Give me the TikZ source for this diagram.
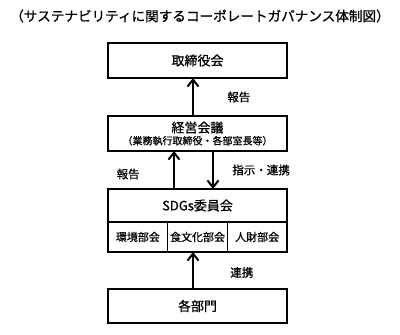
\documentclass[tikz,border=0pt]{standalone}
\usepackage{fontspec}
\setmainfont{Noto Sans CJK JP}[FakeBold=0.8]
\usetikzlibrary{arrows.meta, positioning}

\tikzset{
  box/.style={draw, line width=2pt, minimum width=179pt, minimum height=35pt,
              inner sep=0pt, outer sep=0pt, font=\fontsize{13}{15}\selectfont},
  subbox/.style={draw, line width=1.6pt, minimum width=59.67pt, minimum height=30pt,
                 inner sep=0pt, outer sep=0pt, font=\fontsize{11}{13}\selectfont},
  link/.style={line width=2pt, -{Straight Barb[length=7pt,width=11pt]}},
  lbl/.style={font=\fontsize{11.5}{13}\selectfont},
}

\begin{document}
\begin{tikzpicture}[x=1pt, y=-1pt, node distance=38pt]

  \useasboundingbox (0,0) rectangle (400,335);

  % title
  \node[font=\fontsize{13.6}{15}\selectfont] (title) at (200,16)
       {（サステナビリティに関するコーポレートガバナンス体制図）};

  % boxes
  \node[box] (board) at (197.5,60.5) {取締役会};
  \node[box, align=center, below=of board] (mgmt)
       {経営会議\\[-3pt]{\fontsize{10}{11}\selectfont （業務執行取締役・各部室長等）}};
  \node[box, minimum height=33pt, below=of mgmt] (sdgs) {SDGs委員会};
  \node[subbox, anchor=north west] (env) at (sdgs.south west) {環境部会};
  \node[subbox, right=0pt of env] (food) {食文化部会};
  \node[subbox, right=0pt of food] (hr) {人財部会};
  \node[box, minimum height=34pt, below=37pt of food] (dept) {各部門};

  % arrows
  \draw[link] ([xshift=-4.5pt]mgmt.north) -- ([xshift=-4.5pt]board.south)
    node[lbl, midway, right=30pt] {報告};
  \draw[link] ([xshift=-23.5pt]sdgs.north) -- ([xshift=-23.5pt]mgmt.south)
    node[lbl, midway, left=30pt, yshift=-4pt] {報告};
  \draw[link] ([xshift=15.5pt]mgmt.south) -- ([xshift=15.5pt]sdgs.north)
    node[lbl, midway, right=15pt] {指示・連携};
  \draw[link, {Straight Barb[length=7pt,width=11pt]}-] ([xshift=-4.5pt]food.south) -- ([xshift=-4.5pt]dept.north)
    node[lbl, midway, right=33pt, yshift=-2pt] {連携};

\end{tikzpicture}
\end{document}
